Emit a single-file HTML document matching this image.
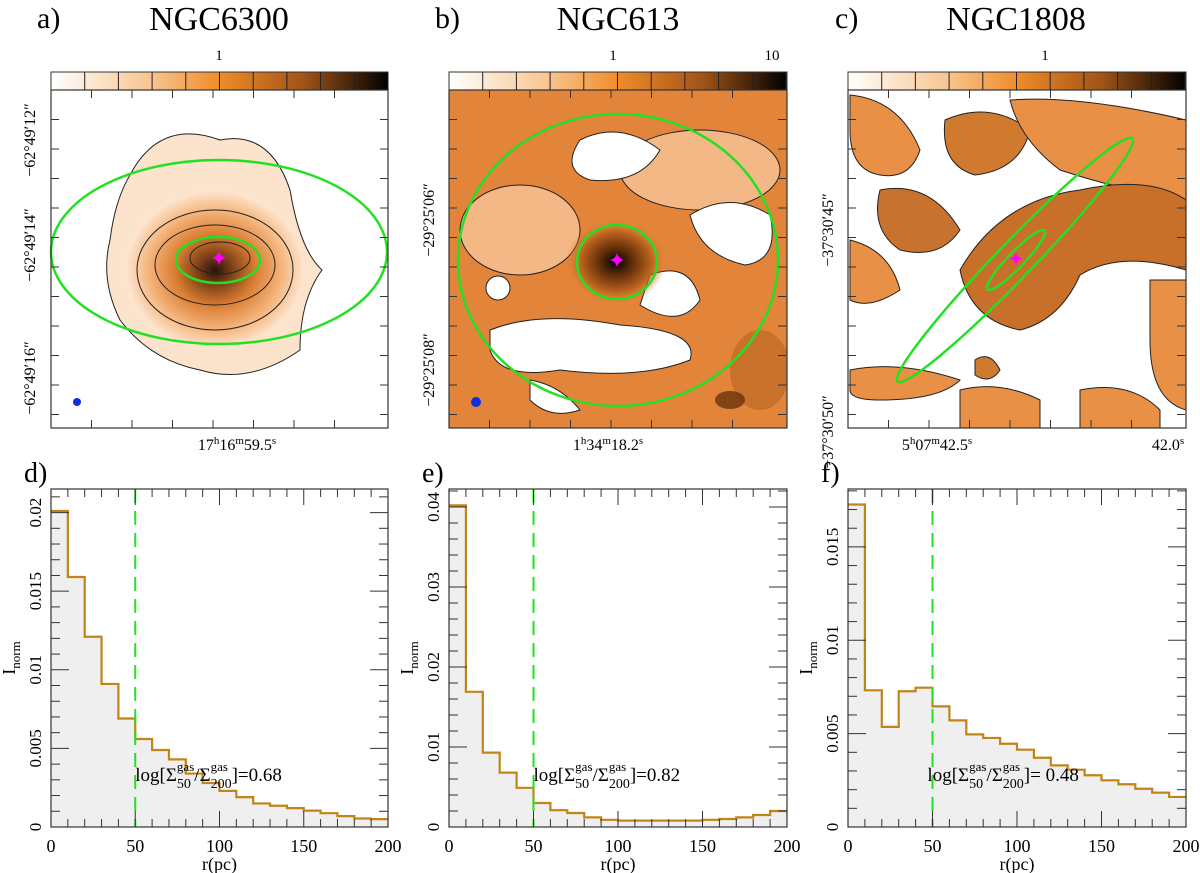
<!DOCTYPE html>
<html><head><meta charset="utf-8"><style>
body{margin:0;background:#fff;}
svg{display:block;font-family:"Liberation Serif",serif;}
</style></head><body>
<svg id="fig" width="1200" height="873" viewBox="0 0 1200 873" xmlns="http://www.w3.org/2000/svg">
<defs>
<linearGradient id="cbar" x1="0" x2="1" y1="0" y2="0">
<stop offset="0" stop-color="#fff"/><stop offset="0.3" stop-color="#f7c48e"/><stop offset="0.5" stop-color="#f08c2a"/><stop offset="0.75" stop-color="#a05418"/><stop offset="1" stop-color="#000"/></linearGradient>
<radialGradient id="blobA" cx="0.5" cy="0.5" r="0.5">
<stop offset="0" stop-color="#1a0a02"/><stop offset="0.2" stop-color="#7a3a0e"/><stop offset="0.45" stop-color="#d9782a"/><stop offset="0.75" stop-color="#f4b47a"/><stop offset="1" stop-color="#fde8d4"/></radialGradient>
<radialGradient id="coreB" cx="0.5" cy="0.5" r="0.5">
<stop offset="0" stop-color="#000"/><stop offset="0.3" stop-color="#5a2a08"/><stop offset="0.7" stop-color="#b8621c"/><stop offset="1" stop-color="#e07f30" stop-opacity="0"/></radialGradient>
<clipPath id="clipA"><rect x="51" y="90" width="337" height="338"/></clipPath>
<clipPath id="clipB"><rect x="449" y="90" width="338" height="338"/></clipPath>
<clipPath id="clipC"><rect x="848" y="90" width="338" height="338"/></clipPath>
</defs>

<g>
<text x="37" y="28" font-size="30">a)</text>
<text x="219" y="30" font-size="34" text-anchor="middle">NGC6300</text>
<text x="219" y="60" font-size="15" text-anchor="middle">1</text>
<rect x="51" y="72" width="337" height="18" fill="url(#cbar)" stroke="#333"/>
<g clip-path="url(#clipA)">
<path d="M130 175 Q160 118 220 140 Q270 130 290 190 Q300 250 322 270 Q300 300 300 350 Q250 385 200 370 Q150 360 120 320 Q100 280 110 240 Q115 200 130 175Z" fill="#fbe3cc" stroke="#222" stroke-width="1"/>
<ellipse cx="215" cy="270" rx="90" ry="80" fill="url(#blobA)" opacity="0.95"/>
<ellipse cx="215" cy="265" rx="60" ry="40" fill="none" stroke="#222"/>
<ellipse cx="215" cy="270" rx="78" ry="60" fill="none" stroke="#222"/>
<ellipse cx="220" cy="258" rx="30" ry="16" fill="none" stroke="#222"/>
</g>
<ellipse cx="219" cy="252" rx="168" ry="92" fill="none" stroke="#22e022" stroke-width="2.5"/>
<ellipse cx="218" cy="260" rx="42" ry="23" fill="none" stroke="#22e022" stroke-width="2.5"/>
<text x="219" y="266" font-size="22" fill="#f0f" text-anchor="middle" font-family="DejaVu Sans">✦</text>
<circle cx="77" cy="402" r="4" fill="#1030e0"/>
<rect x="51" y="90" width="337" height="338" fill="none" stroke="#333" stroke-width="1.2"/>
<text transform="translate(35,140) rotate(-90)" font-size="16" text-anchor="middle">−62°49′12″</text>
<text transform="translate(35,245) rotate(-90)" font-size="16" text-anchor="middle">−62°49′14″</text>
<text transform="translate(35,378) rotate(-90)" font-size="16" text-anchor="middle">−62°49′16″</text>
<text x="237" y="450" font-size="16" text-anchor="middle">17<tspan dy="-6" font-size="11">h</tspan><tspan dy="6">16</tspan><tspan dy="-6" font-size="11">m</tspan><tspan dy="6">59.5</tspan><tspan dy="-6" font-size="11">s</tspan></text>
</g>

<g>
<text x="435" y="28" font-size="30">b)</text>
<text x="618" y="30" font-size="34" text-anchor="middle">NGC613</text>
<text x="613" y="60" font-size="15" text-anchor="middle">1</text>
<text x="772" y="60" font-size="15" text-anchor="middle">10</text>
<rect x="449" y="72" width="338" height="18" fill="url(#cbar)" stroke="#333"/>
<g clip-path="url(#clipB)">
<rect x="449" y="90" width="338" height="338" fill="#e2843a"/>
<ellipse cx="520" cy="230" rx="60" ry="45" fill="#f3b885" stroke="#222"/>
<ellipse cx="700" cy="170" rx="80" ry="40" fill="#f3b885" stroke="#222"/>
<path d="M580 140 Q620 120 660 150 Q640 185 590 180 Q560 170 580 140Z" fill="#fff" stroke="#222"/>
<path d="M690 215 Q730 190 770 215 Q780 260 745 265 Q700 255 690 215Z" fill="#fff" stroke="#222"/>
<path d="M490 330 Q540 310 620 325 Q700 330 690 360 Q640 380 560 370 Q500 380 490 350Z" fill="#fff" stroke="#222"/>
<path d="M650 275 Q690 260 700 300 Q680 330 640 305Z" fill="#fff" stroke="#222"/>
<path d="M530 380 Q560 385 580 410 Q550 420 530 400Z" fill="#fff" stroke="#222"/>
<ellipse cx="498" cy="288" rx="12" ry="12" fill="#fff" stroke="#222"/>
<ellipse cx="616" cy="262" rx="50" ry="42" fill="url(#coreB)"/>
<ellipse cx="760" cy="370" rx="30" ry="40" fill="#b86420" opacity="0.6"/>
<ellipse cx="730" cy="400" rx="15" ry="9" fill="#5a2a08" opacity="0.7"/>
</g>
<ellipse cx="618" cy="260" rx="160" ry="146" fill="none" stroke="#22e022" stroke-width="2.5"/>
<ellipse cx="617" cy="262" rx="40" ry="37" fill="none" stroke="#22e022" stroke-width="2.5"/>
<text x="617" y="268" font-size="22" fill="#f0f" text-anchor="middle" font-family="DejaVu Sans">✦</text>
<ellipse cx="476" cy="402" rx="5" ry="5" fill="#1030e0"/>
<rect x="449" y="90" width="338" height="338" fill="none" stroke="#333" stroke-width="1.2"/>
<text transform="translate(434,220) rotate(-90)" font-size="16" text-anchor="middle">−29°25′06″</text>
<text transform="translate(434,370) rotate(-90)" font-size="16" text-anchor="middle">−29°25′08″</text>
<text x="608" y="450" font-size="16" text-anchor="middle">1<tspan dy="-6" font-size="11">h</tspan><tspan dy="6">34</tspan><tspan dy="-6" font-size="11">m</tspan><tspan dy="6">18.2</tspan><tspan dy="-6" font-size="11">s</tspan></text>
</g>

<g>
<text x="835" y="28" font-size="30">c)</text>
<text x="1016" y="30" font-size="34" text-anchor="middle">NGC1808</text>
<text x="1045" y="60" font-size="15" text-anchor="middle">1</text>
<rect x="848" y="72" width="338" height="18" fill="url(#cbar)" stroke="#333"/>
<g clip-path="url(#clipC)" stroke="#222" stroke-width="1">
<path d="M850 95 Q900 100 920 150 Q910 180 880 175 Q850 170 850 130Z" fill="#e79046"/>
<path d="M945 120 Q990 100 1030 130 Q1020 170 975 175 Q940 165 945 120Z" fill="#d07a30"/>
<path d="M1010 100 Q1080 95 1186 120 L1186 200 Q1120 190 1060 170 Q1020 140 1010 100Z" fill="#e79046"/>
<path d="M880 190 Q930 180 960 230 Q940 260 900 250 Q870 230 880 190Z" fill="#c87230"/>
<path d="M850 240 Q890 250 900 290 Q870 310 850 300Z" fill="#e79046"/>
<path d="M960 270 Q1000 200 1080 190 Q1150 175 1186 200 L1186 270 Q1120 250 1080 275 Q1060 320 1020 330 Q970 320 960 270Z" fill="#c8702a"/>
<path d="M1150 280 L1186 280 L1186 410 Q1150 400 1150 340Z" fill="#e79046"/>
<path d="M850 370 Q900 360 960 380 Q940 400 880 400 Q850 400 850 390Z" fill="#e79046"/>
<path d="M960 390 Q1000 380 1040 400 L1040 428 L960 428Z" fill="#e79046"/>
<path d="M1080 390 Q1130 380 1160 410 L1160 428 L1080 428Z" fill="#e79046"/>
<path d="M975 360 Q990 350 1000 370 Q990 385 975 375Z" fill="#d07a30"/>
</g>
<ellipse cx="1015" cy="260" rx="169" ry="18" transform="rotate(-46 1015 260)" fill="none" stroke="#22e022" stroke-width="2.5"/>
<ellipse cx="1016" cy="260" rx="41" ry="8" transform="rotate(-46 1016 260)" fill="none" stroke="#22e022" stroke-width="2.5"/>
<text x="1016" y="266" font-size="20" fill="#f0f" text-anchor="middle" font-family="DejaVu Sans">✦</text>
<rect x="848" y="90" width="338" height="338" fill="none" stroke="#333" stroke-width="1.2"/>
<text transform="translate(833,230) rotate(-90)" font-size="16" text-anchor="middle">−37°30′45″</text>
<text transform="translate(833,432) rotate(-90)" font-size="16" text-anchor="middle">−37°30′50″</text>
<text x="937" y="450" font-size="16" text-anchor="middle">5<tspan dy="-6" font-size="11">h</tspan><tspan dy="6">07</tspan><tspan dy="-6" font-size="11">m</tspan><tspan dy="6">42.5</tspan><tspan dy="-6" font-size="11">s</tspan></text>
<text x="1168" y="450" font-size="16" text-anchor="middle">42.0<tspan dy="-6" font-size="11">s</tspan></text>
</g>

<g id="mapticks"></g>
<g id="hists"></g>
</svg>
<script>
const binEdges = [0,10,20,30,40,50,60,70,80,90,100,110,120,130,140,150,160,170,180,190,200];
const seriesD = [0.0201,0.0159,0.0121,0.0091,0.0069,0.0056,0.0049,0.0043,0.0034,0.0028,0.0023,0.0019,0.0015,0.00135,0.0012,0.00104,0.00088,0.00069,0.00054,0.0005];
const seriesE = [0.0402,0.0169,0.0093,0.0068,0.0049,0.0030,0.0021,0.00175,0.0012,0.0009,0.0008,0.0008,0.0008,0.0008,0.0008,0.0009,0.0010,0.0012,0.0015,0.0020];
const seriesF = [0.01727,0.00732,0.00536,0.00727,0.00746,0.00646,0.00571,0.00496,0.00477,0.00446,0.00414,0.00371,0.0033,0.00307,0.00277,0.0025,0.00229,0.00205,0.00184,0.00161];
const xTicks = [0,50,100,150,200];
const yTicksD = [0,0.005,0.01,0.015,0.02];
const yTicksE = [0,0.01,0.02,0.03,0.04];
const yTicksF = [0,0.005,0.01,0.015];
const ratioLabels = ["0.68","0.82"," 0.48"];
const panelLabels = ["d)","e)","f)"];

const NS="http://www.w3.org/2000/svg";
const root=document.getElementById('hists');
function mk(tag,attrs,parent){const e=document.createElementNS(NS,tag);for(const k in attrs)e.setAttribute(k,attrs[k]);(parent||root).appendChild(e);return e;}

// map frame ticks and colorbar segments
const mt=document.getElementById('mapticks');
[51,449,848].forEach(x0=>{
 for(let k=1;k<11;k++){const x=x0+k*33.7;mk('line',{x1:x,x2:x,y1:72,y2:90,stroke:'#222','stroke-width':1},mt);}
 for(let k=1;k<8;k++){const x=x0+k*40.5;mk('line',{x1:x,x2:x,y1:428,y2:420,stroke:'#333'},mt);mk('line',{x1:x,x2:x,y1:90,y2:98,stroke:'#333'},mt);}
 for(let k=1;k<12;k++){const y=90+k*29.5;mk('line',{x1:x0,x2:x0+8,y1:y,y2:y,stroke:'#333'},mt);mk('line',{x1:x0+337,x2:x0+329,y1:y,y2:y,stroke:'#333'},mt);}
});

const panels=[
 {x0:51,x1:388,ymax:0.0215,vals:seriesD,yt:yTicksD,minor:0.001,name:'d'},
 {x0:449,x1:787,ymax:0.04225,vals:seriesE,yt:yTicksE,minor:0.002,name:'e'},
 {x0:848,x1:1186,ymax:0.0181,vals:seriesF,yt:yTicksF,minor:0.001,name:'f'}];
const topY=489,botY=827;
panels.forEach((p,i)=>{
 const g=mk('g',{});
 
 
 const X=v=>p.x0+(v-0)/(200-0)*(p.x1-p.x0);
 const Y=v=>botY-v/p.ymax*(botY-topY);
 let d='';
 p.vals.forEach((v,k)=>{d+=(k===0?'M':' L')+X(binEdges[k])+' '+Y(v)+' L'+X(binEdges[k+1])+' '+Y(v);});
 const fill=mk('path',{d:'M'+X(0)+' '+botY+' L'+d.slice(1)+' L'+X(200)+' '+botY+'Z',fill:'#efefef'},g);
 
 
 const line=mk('path',{d:d,fill:'none',stroke:'#c08418','stroke-width':2.2},g);
 
 
 const vl=mk('line',{x1:X(50),x2:X(50),y1:topY,y2:botY,stroke:'#22e022','stroke-width':2,'stroke-dasharray':'14,8'},g);
 
 
 mk('rect',{x:p.x0,y:topY,width:p.x1-p.x0,height:botY-topY,fill:'none',stroke:'#333','stroke-width':1.2},g);
 for(let v=0;v<=200;v+=10){const big=v%50===0;const L=big?16:8;
  mk('line',{x1:X(v),x2:X(v),y1:botY,y2:botY-L,stroke:'#333'},g);
  mk('line',{x1:X(v),x2:X(v),y1:topY,y2:topY+L,stroke:'#333'},g);}
 const nMinor=Math.floor(p.ymax/p.minor+1e-6);
 for(let k=0;k<=nMinor;k++){const v=k*p.minor;
  const big=p.yt.some(t=>Math.abs(t-v)<1e-9);const L=big?18:9;
  mk('line',{x1:p.x0,x2:p.x0+L,y1:Y(v),y2:Y(v),stroke:'#333'},g);
  mk('line',{x1:p.x1,x2:p.x1-L,y1:Y(v),y2:Y(v),stroke:'#333'},g);}
 xTicks.forEach(t=>{const tx=mk('text',{x:X(t),y:852,'font-size':18,'text-anchor':'middle'},g);tx.textContent=t;
  
  });
 p.yt.forEach(t=>{const tx=mk('text',{transform:'translate('+(p.x0-10)+','+Y(t)+') rotate(-90)','font-size':17,'text-anchor':'middle'},g);tx.textContent=t;
  
  });
 const xl=mk('text',{x:(p.x0+p.x1)/2,y:870,'font-size':18,'text-anchor':'middle'},g);xl.textContent='r(pc)';
 
 
 const yl=mk('text',{transform:'translate('+(p.x0-36)+',658) rotate(-90)','font-size':18,'text-anchor':'middle'},g);
 yl.innerHTML='I<tspan dy="5" font-size="13">norm</tspan>';
 
 
 const pl=mk('text',{x:p.x0-27,y:482,'font-size':28},g);pl.textContent=panelLabels[i];
 
 
 // annotation built piecewise
 const ag=mk('g',{},g);
 
 
 let ax=X(i==2?47:50), by=781;
 const piece=(txt,size,dy)=>{const t=mk('text',{x:ax,y:by+dy,'font-size':size},ag);t.textContent=txt;return t.getComputedTextLength();};
 ax+=piece('log[Σ',19,0);
 const w1=Math.max(piece('gas',13,-10),piece('50',14,7));ax+=w1;
 ax+=piece('/Σ',19,0);
 const w2=Math.max(piece('gas',13,-10),piece('200',14,7));ax+=w2;
 piece(']='+ratioLabels[i],19,0);
});
</script>
</body></html>
